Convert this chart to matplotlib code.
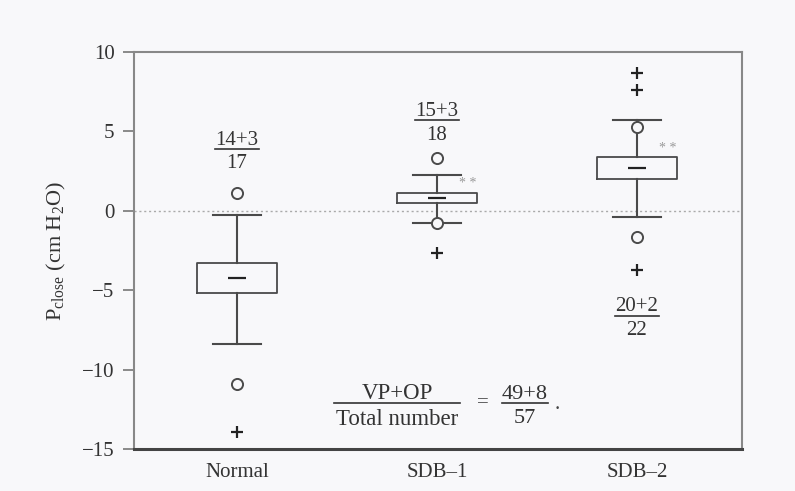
import matplotlib
matplotlib.use('Agg')
import matplotlib.pyplot as plt

plt.rcParams['font.family'] = ['Liberation Serif', 'DejaVu Serif']
plt.rcParams['mathtext.fontset'] = 'custom'
plt.rcParams['mathtext.rm'] = 'Liberation Serif'

# data (cm H2O)
groups = ['Normal', 'SDB\u20131', 'SDB\u20132']
whislo = [-8.4, -0.76, -0.38]
q1 = [-5.2, 0.5, 2.0]
mean = [-4.2, 0.82, 2.7]
q3 = [-3.3, 1.14, 3.4]
whishi = [-0.25, 2.28, 5.7]
circles = [[1.1, -10.9], [3.35, -0.76], [5.3, -1.65]]
pluses = [[-13.9], [-2.66], [8.67, 7.6, -3.73]]
counts = [('14+3', '17'), ('15+3', '18'), ('20+2', '22')]
count_y = [3.9, 5.7, -6.6]
stars_y = [None, 1.7, 3.9]
total = ('49+8', '57')

pos = [1, 2, 3]
gray = '#4a4a4a'

fig = plt.figure(figsize=(7.95, 4.91), dpi=100, facecolor='#f8f8fa')
ax = fig.add_axes([0.1686, 0.0855, 0.7647, 0.8085])
ax.set_facecolor('#f8f8fa')

ax.axhline(0, color='#aaaaaa', lw=1, ls=(0, (1.5, 2)), zorder=1)

stats = []
for i in range(3):
    stats.append(dict(whislo=whislo[i], q1=q1[i], med=mean[i], q3=q3[i],
                      whishi=whishi[i], mean=mean[i], fliers=[]))
ax.bxp(stats, positions=pos, widths=0.4, showfliers=False, showmeans=True,
       boxprops=dict(color=gray, lw=1.3),
       whiskerprops=dict(color=gray, lw=1.5),
       capprops=dict(color=gray, lw=1.5),
       capwidths=0.24,
       medianprops=dict(lw=0),
       meanprops=dict(marker='_', markersize=13, markeredgecolor='#222222',
                      markeredgewidth=1.6))

for i in range(3):
    ax.plot([pos[i]] * len(circles[i]), circles[i], 'o', ms=8, mfc='#f8f8fa',
            mec=gray, mew=1.4, zorder=4)
    ax.plot([pos[i]] * len(pluses[i]), pluses[i], '+', ms=8, mec='#222222',
            mew=1.6, zorder=4)


def frac(x, y, num, den, w, fs=15):
    ax.text(x, y - 0.05, num, ha='center', va='bottom', fontsize=fs, color='#333333')
    ax.text(x, y - 0.35, den, ha='center', va='top', fontsize=fs, color='#333333')
    ax.plot([x - w / 2, x + w / 2], [y, y], color='#333333', lw=1.2)


for i in range(3):
    frac(pos[i], count_y[i], counts[i][0], counts[i][1], 0.22)
    if stars_y[i] is not None:
        ax.text(pos[i] + 0.155, stars_y[i], '* *', fontsize=10, color='#999999',
                ha='center', va='center')

frac(1.8, -12.1, 'VP+OP', 'Total number', 0.63, fs=16.5)
ax.text(2.23, -12.1, '=', fontsize=15, color='#444444', ha='center', va='center')
frac(2.44, -12.1, total[0], total[1], 0.23, fs=16)
ax.text(2.6, -12.2, '.', fontsize=15, color='#444444', ha='center', va='center')

ax.set_xlim(0.485, 3.525)
ax.set_ylim(-15, 10)
ax.set_yticks([-15, -10, -5, 0, 5, 10])
ax.set_yticklabels(['\u221215', '\u221210', '\u22125', '0', '5', '10'])
ax.set_xticks(pos)
ax.set_xticklabels(groups)
ax.tick_params(axis='x', length=0, labelsize=15, pad=10, labelcolor='#333333')
ax.tick_params(axis='y', length=8, width=1.2, color='#777777', labelsize=15,
               labelcolor='#333333', pad=6)
for s in ['left', 'right', 'top']:
    ax.spines[s].set_color('#888888')
    ax.spines[s].set_linewidth(1.5)
ax.spines['bottom'].set_color('#444444')
ax.spines['bottom'].set_linewidth(2.2)

ax.set_ylabel(r'P$_\mathrm{close}$ (cm H$_2$O)', fontsize=16, color='#333333', labelpad=10)

fig.savefig('out.png', dpi=100, facecolor=fig.get_facecolor())
